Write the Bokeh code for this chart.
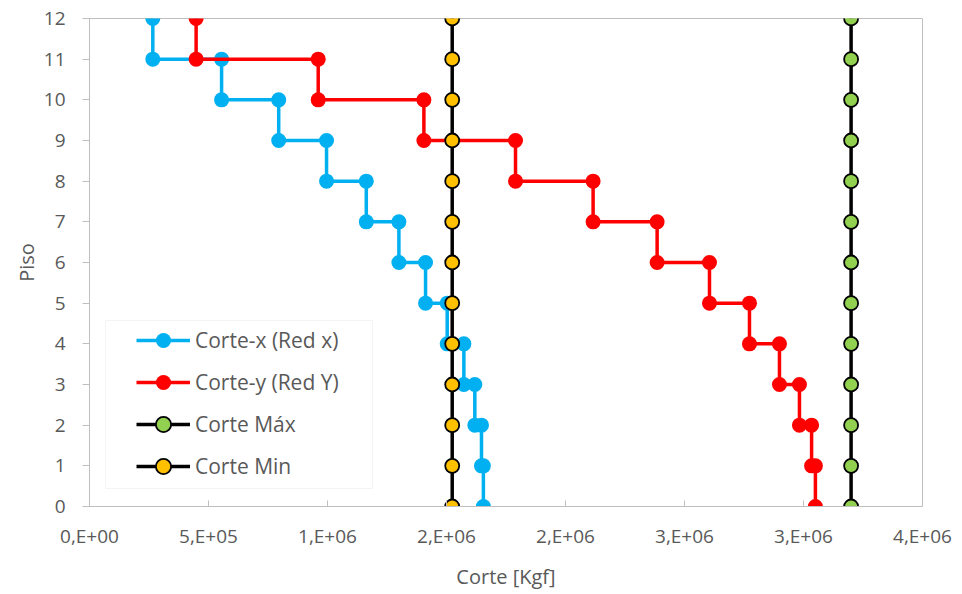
from bokeh.plotting import figure
from bokeh.models import Range1d, FixedTicker, Legend, LegendItem, BoxAnnotation
from bokeh.embed import file_html
from bokeh.resources import INLINE

# ---------------- data ----------------
floors = [12, 11, 10, 9, 8, 7, 6, 5, 4, 3, 2, 1, 0]
stories = [12, 11, 10, 9, 8, 7, 6, 5, 4, 3, 2, 1]
corte_x = [266e3, 555e3, 795e3, 996e3, 1163e3, 1300e3, 1412e3, 1503e3,
           1573e3, 1619e3, 1647e3, 1655e3]
corte_y = [448e3, 961e3, 1405e3, 1790e3, 2116e3, 2385e3, 2605e3, 2773e3,
           2899e3, 2983e3, 3034e3, 3050e3]
corte_max = [3.2e6, 3.2e6, 3.2e6, 3.2e6, 3.2e6, 3.2e6, 3.2e6, 3.2e6, 3.2e6,
             3.2e6, 3.2e6, 3.2e6, 3.2e6]
corte_min = [1.524e6, 1.524e6, 1.524e6, 1.524e6, 1.524e6, 1.524e6, 1.524e6,
             1.524e6, 1.524e6, 1.524e6, 1.524e6, 1.524e6, 1.524e6]
x_ticks = [0, 5e5, 1e6, 1.5e6, 2e6, 2.5e6, 3e6, 3.5e6]
x_tick_labels = ["0,E+00", "5,E+05", "1,E+06", "2,E+06", "2,E+06",
                 "3,E+06", "3,E+06", "4,E+06"]
y_ticks = [0, 1, 2, 3, 4, 5, 6, 7, 8, 9, 10, 11, 12]
series_names = ["Corte-x (Red x)", "Corte-y (Red Y)", "Corte Máx", "Corte Min"]


def step_profile(vals):
    xs = [vals[0]]
    ys = [stories[0]]
    for i in range(1, len(vals)):
        fl = stories[i]
        xs += [vals[i - 1], vals[i]]
        ys += [fl, fl]
    xs.append(vals[-1])
    ys.append(0)
    return xs, ys


FONT = "Open Sans"
TXT = "#595959"
AX = "#bfbfbf"

p = figure(width=955, height=592, output_backend="svg", toolbar_location=None,
           x_range=Range1d(0, 3.5e6), y_range=Range1d(0, 12),
           min_border_left=89, min_border_right=33, min_border_top=18,
           min_border_bottom=84)

p.grid.visible = False
p.outline_line_color = AX
p.outline_line_width = 1
p.background_fill_color = "white"
p.border_fill_color = "white"

# axes
xa = p.xaxis[0]
xa.ticker = FixedTicker(ticks=x_ticks)
xa.major_label_overrides = {t: l for t, l in zip(x_ticks, x_tick_labels)}
xa.minor_tick_line_color = None
xa.major_tick_in = 6
xa.major_tick_out = 0
xa.axis_line_color = AX
xa.major_tick_line_color = AX
xa.major_label_text_font = FONT
xa.major_label_text_font_size = "19px"
xa.major_label_text_color = TXT
xa.major_label_standoff = 16
xa.axis_label = "Corte [Kgf]"
xa.axis_label_text_font = FONT
xa.axis_label_text_font_size = "20px"
xa.axis_label_text_font_style = "normal"
xa.axis_label_text_color = TXT
xa.axis_label_standoff = 11

ya = p.yaxis[0]
ya.ticker = FixedTicker(ticks=y_ticks)
ya.minor_tick_line_color = None
ya.major_tick_in = 0
ya.major_tick_out = 7
ya.axis_line_color = AX
ya.major_tick_line_color = AX
ya.major_label_text_font = FONT
ya.major_label_text_font_size = "19px"
ya.major_label_text_color = TXT
ya.major_label_standoff = 17
ya.axis_label = "Piso"
ya.axis_label_text_font = FONT
ya.axis_label_text_font_size = "20px"
ya.axis_label_text_font_style = "normal"
ya.axis_label_text_color = TXT
ya.axis_label_standoff = 1

# series
bx, by = step_profile(corte_x)
l1 = p.line(bx, by, line_color="#00B0F0", line_width=3.5)
s1 = p.scatter(bx, by, marker="circle", size=15, fill_color="#00B0F0",
               line_color="#00B0F0", line_width=0)

rx, ry = step_profile(corte_y)
l2 = p.line(rx, ry, line_color="#FF0000", line_width=3.5)
s2 = p.scatter(rx, ry, marker="circle", size=15, fill_color="#FF0000",
               line_color="#FF0000", line_width=0)

l3 = p.line(corte_max, floors, line_color="black", line_width=3.5)
s3 = p.scatter(corte_max, floors, marker="circle", size=14, fill_color="#92D050",
               line_color="black", line_width=1.8)

l4 = p.line(corte_min, floors, line_color="black", line_width=3.5)
s4 = p.scatter(corte_min, floors, marker="circle", size=14, fill_color="#FFC000",
               line_color="black", line_width=1.8)

# legend frame
box = BoxAnnotation(left=16, right=283, bottom=18, top=186,
                    left_units="screen", right_units="screen",
                    bottom_units="screen", top_units="screen",
                    fill_color="white", fill_alpha=1.0,
                    line_color="#d9d9d9", line_width=1)
p.add_layout(box)

legend = Legend(items=[
    LegendItem(label=series_names[0], renderers=[l1, s1]),
    LegendItem(label=series_names[1], renderers=[l2, s2]),
    LegendItem(label=series_names[2], renderers=[l3, s3]),
    LegendItem(label=series_names[3], renderers=[l4, s4]),
], location=(47, 21), border_line_color=None, background_fill_alpha=0,
    padding=0, margin=0, spacing=4, glyph_width=54, glyph_height=38,
    label_height=20, label_standoff=5, label_text_font=FONT,
    label_text_font_size="21px", label_text_color=TXT)
p.add_layout(legend)

open("out.html", "w").write(file_html(p, INLINE))
